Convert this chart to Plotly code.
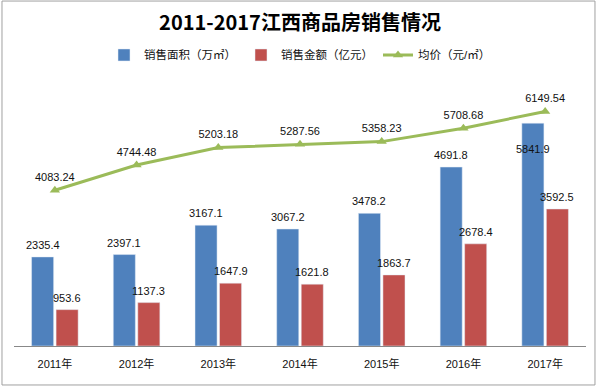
import plotly.graph_objects as go

years = ["2011年", "2012年", "2013年", "2014年", "2015年", "2016年", "2017年"]
area = [2335.4, 2397.1, 3167.1, 3067.2, 3478.2, 4691.8, 5841.9]
amount = [953.6, 1137.3, 1647.9, 1621.8, 1863.7, 2678.4, 3592.5]
price = [4083.24, 4744.48, 5203.18, 5287.56, 5358.23, 5708.68, 6149.54]

BLUE = "#4F81BD"
RED = "#C0504D"
GREEN = "#9BBB59"
LBL = dict(family="Liberation Sans, Arial, sans-serif", size=11, color="#111")
CJK = "Liberation Sans, Noto Sans CJK SC, sans-serif"

fig = go.Figure()
fig.add_trace(go.Bar(x=years, y=area, name="销售面积（万㎡）", marker_color=BLUE))
fig.add_trace(go.Bar(x=years, y=amount, name="销售金额（亿元）", marker_color=RED))
fig.add_trace(go.Scatter(
    x=years, y=price, name="均价（元/㎡）", mode="lines+markers+text",
    line=dict(color=GREEN, width=3),
    marker=dict(symbol="triangle-up", size=9, color=GREEN),
    text=[f"{v:.2f}" for v in price], textposition="top center",
    textfont=LBL, cliponaxis=False,
))

off = 0.15
last = len(area) - 1
for i, v in enumerate(area):
    # the last label sits inside the bar top (it would collide with the line label)
    inside = i == last
    fig.add_annotation(x=i - off, y=v, xref="x", yref="y", text=f"{v:.1f}",
                       showarrow=False, yanchor="top" if inside else "bottom",
                       yshift=-18 if inside else 4, font=LBL)
for i, v in enumerate(amount):
    fig.add_annotation(x=i + off, y=v, xref="x", yref="y", text=f"{v:.1f}",
                       showarrow=False, yanchor="bottom", yshift=4, font=LBL)

# outer frame
fig.add_shape(type="rect", xref="paper", yref="paper",
              x0=-0.021, x1=1.0157, y0=-0.146, y1=1.292,
              line=dict(color="#A0A0A0", width=1), layer="below")

fig.update_layout(
    width=600, height=387,
    margin=dict(l=14, r=14, t=79, b=41, autoexpand=False),
    paper_bgcolor="white", plot_bgcolor="white",
    title=dict(text="<b>2011-2017江西商品房销售情况</b>", x=0.5, xanchor="center",
               y=1 - 23 / 387, yanchor="middle",
               font=dict(family="Noto Sans CJK SC, sans-serif", size=20, color="#000")),
    barmode="group", bargap=0.4, bargroupgap=0.1,
    showlegend=True,
    legend=dict(orientation="h", x=0.5, xanchor="center", y=1.09, yanchor="middle",
                font=dict(family=CJK, size=11.5, color="#111"), traceorder="normal"),
    xaxis=dict(showline=True, linecolor="#888", linewidth=1, ticks="",
               tickfont=dict(family=CJK, size=11, color="#111"), ticklabelstandoff=8),
    yaxis=dict(range=[0, 7000], visible=False, showgrid=False),
)

fig.write_html("out.html", config={"displayModeBar": False},
               post_script="document.body.style.margin='0';")
